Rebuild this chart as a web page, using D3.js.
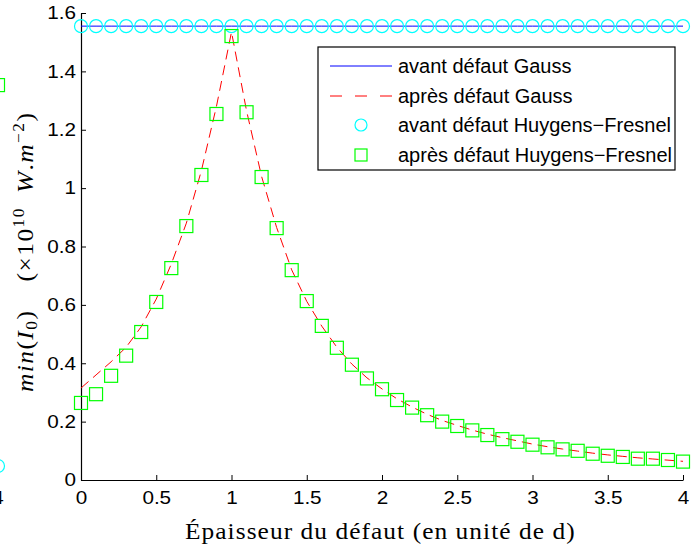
<!DOCTYPE html>
<html><head><meta charset="utf-8">
<script src="https://cdn.jsdelivr.net/npm/d3@7"></script>
<style>body{margin:0;background:#fff}svg{display:block}</style>
</head><body>
<script>
// ---- data ----
const xs = [0,0.1,0.2,0.3,0.4,0.5,0.6,0.7,0.8,0.9,1.0,1.1,1.2,1.3,1.4,1.5,1.6,1.7,1.8,1.9,2.0,2.1,2.2,2.3,2.4,2.5,2.6,2.7,2.8,2.9,3.0,3.1,3.2,3.3,3.4,3.5,3.6,3.7,3.8,3.9,4.0];
const avantGauss = 1.555; // constant level
const avantHF = xs.map(() => 1.555);
const apresGauss = [0.315,0.36,0.405,0.455,0.525,0.62,0.74,0.88,1.06,1.28,1.535,1.265,1.04,0.865,0.72,0.612,0.527,0.455,0.397,0.35,0.312,0.278,0.25,0.225,0.204,0.187,0.171,0.157,0.145,0.134,0.123,0.114,0.106,0.099,0.092,0.086,0.081,0.076,0.072,0.068,0.064];
const apresHF = [0.264,0.294,0.357,0.426,0.507,0.61,0.726,0.87,1.045,1.254,1.521,1.26,1.038,0.863,0.719,0.613,0.528,0.453,0.395,0.348,0.311,0.274,0.248,0.222,0.2,0.185,0.17,0.154,0.14,0.131,0.121,0.112,0.105,0.1,0.09,0.083,0.079,0.073,0.073,0.0685,0.063];
const xTicks = [0,0.5,1,1.5,2,2.5,3,3.5,4];
const yTicks = [0,0.2,0.4,0.6,0.8,1,1.2,1.4,1.6];
const legendLabels = ["avant défaut Gauss","après défaut Gauss","avant défaut Huygens\u2212Fresnel","après défaut Huygens\u2212Fresnel"];
// neighbouring panel (cut at left edge)
const neighX = [4];
const neighSquare = [1.353];
const neighCircle = [0.048];

// ---- layout ----
const W = 699, H = 551;
const L = 81, R = 683, T = 13, B = 480;
const svg = d3.select("body").append("svg").attr("width", W).attr("height", H);
const x = d3.scaleLinear().domain([0,4]).range([L,R]);
const y = d3.scaleLinear().domain([0,1.6]).range([B,T]);
const xN = d3.scaleLinear().domain([0,4]).range([L-604, -2]);

const sans = "'Liberation Sans', Arial, Helvetica, sans-serif";
const serif = "'Liberation Serif', 'DejaVu Serif', serif";
const tickFont = 18, tickSX = 1.15;
const labSX = 1.08;

// neighbour remnants
svg.selectAll(".nsq").data(neighX).enter().append("rect")
  .attr("x", (d)=>xN(d)-6.5).attr("y", (d,i)=>y(neighSquare[i])-6.5)
  .attr("width",13).attr("height",13).attr("fill","none").attr("stroke","#00ff00").attr("stroke-width",1.2);
svg.selectAll(".nci").data(neighX).enter().append("circle")
  .attr("cx", (d)=>xN(d)).attr("cy", (d,i)=>y(neighCircle[i])).attr("r",6.5)
  .attr("fill","none").attr("stroke","#00ffff").attr("stroke-width",1.2);
svg.selectAll(".ntk").data(neighX).enter().append("text")
  .attr("transform", d=>`translate(${xN(d)},${B+24}) scale(${tickSX},1)`).attr("text-anchor","middle")
  .attr("font-family",sans).attr("font-size",tickFont).text(d=>d);

// axes
const gx = svg.append("g").attr("transform",`translate(0,${B})`)
  .call(d3.axisBottom(x).tickValues(xTicks).tickSizeInner(-5).tickSizeOuter(0).tickPadding(11).tickFormat(d3.format("")));
const gy = svg.append("g").attr("transform",`translate(${L},0)`)
  .call(d3.axisLeft(y).tickValues(yTicks).tickSizeInner(-5).tickSizeOuter(0).tickPadding(5).tickFormat(d3.format("")));
[gx,gy].forEach(g=>{
  g.select(".domain").attr("stroke","#000").attr("stroke-width",1.2);
  g.selectAll(".tick line").attr("stroke","#000").attr("stroke-width",1);
  g.selectAll(".tick text").attr("font-family",sans).attr("font-size",tickFont).attr("fill","#000");
});
gx.selectAll(".tick text").attr("dy","0.71em").attr("transform",`scale(${tickSX},1)`).attr("y", 11);
gy.selectAll(".tick text").attr("transform",`scale(${tickSX},1)`).attr("x", -5/tickSX);

// avant Gauss: blue line
svg.append("path").datum(xs)
  .attr("d", d3.line().x(d=>x(d)).y(()=>y(avantGauss)))
  .attr("fill","none").attr("stroke","#0000ff").attr("stroke-width",1);

// après Gauss: red dashed
svg.append("path").datum(xs)
  .attr("d", d3.line().x(d=>x(d)).y((d,i)=>y(apresGauss[i])))
  .attr("fill","none").attr("stroke","#ff0000").attr("stroke-width",1).attr("stroke-dasharray","10,6");

// avant HF: cyan circles
svg.selectAll(".c").data(xs).enter().append("circle")
  .attr("cx", d=>x(d)).attr("cy",(d,i)=>y(avantHF[i])).attr("r",6.5)
  .attr("fill","none").attr("stroke","#00ffff").attr("stroke-width",1.2);

// après HF: green squares
svg.selectAll(".s").data(xs).enter().append("rect")
  .attr("x", d=>x(d)-6.5).attr("y",(d,i)=>y(apresHF[i])-6.5).attr("width",13).attr("height",13)
  .attr("fill","none").attr("stroke","#00ff00").attr("stroke-width",1.2);

// legend
const lg = svg.append("g");
lg.append("rect").attr("x",318).attr("y",47).attr("width",357).attr("height",123)
  .attr("fill","#fff").attr("stroke","#000").attr("stroke-width",1.2);
const rowY = [66,96,125,155];
lg.append("line").attr("x1",330).attr("x2",392).attr("y1",rowY[0]).attr("y2",rowY[0]).attr("stroke","#0000ff");
lg.append("line").attr("x1",330).attr("x2",392).attr("y1",rowY[1]).attr("y2",rowY[1]).attr("stroke","#ff0000").attr("stroke-dasharray","12,13");
lg.append("circle").attr("cx",361).attr("cy",rowY[2]).attr("r",6).attr("fill","none").attr("stroke","#00ffff").attr("stroke-width",1.2);
lg.append("rect").attr("x",355).attr("y",rowY[3]-6).attr("width",12).attr("height",12).attr("fill","none").attr("stroke","#00ff00").attr("stroke-width",1.2);
lg.selectAll(".lt").data(legendLabels).enter().append("text")
  .attr("x",398).attr("y",(d,i)=>rowY[i]).attr("dy","0.36em")
  .attr("font-family",sans).attr("font-size",20).attr("fill","#000").text(d=>d);

// x label (slightly widened to the reference's width)
const xLabel = "Épaisseur du défaut (en unité de d)";
const xl = svg.append("text").attr("text-anchor","start")
  .attr("font-family",serif).attr("font-size",23.5).attr("fill","#000").text(xLabel);
const xlw = xl.node().getComputedTextLength();
const xls = Math.max(0, (390/labSX - xlw) / (xLabel.length - 1));
xl.attr("letter-spacing", xls).attr("transform",`translate(185,539) scale(${labSX},1)`);

// y label
const yl = svg.append("text")
  .attr("text-anchor","start").attr("font-family",serif).attr("font-size",23.5).attr("fill","#000");
yl.append("tspan").attr("font-style","italic").text("min");
yl.append("tspan").text("(");
yl.append("tspan").attr("font-style","italic").text("I");
yl.append("tspan").attr("font-size",16).attr("dy",4).text("0");
yl.append("tspan").attr("dy",-4).text(")\u2002\u2002(×10");
yl.append("tspan").attr("font-size",16).attr("dy",-9).text("10");
yl.append("tspan").attr("dy",9).text("\u2002");
yl.append("tspan").attr("font-style","italic").text("W");
yl.append("tspan").text(".");
yl.append("tspan").attr("font-style","italic").text("m");
yl.append("tspan").attr("font-size",16).attr("dy",-9).text("\u22122");
yl.append("tspan").attr("dy",9).text(")");
const ylw = yl.node().getBBox().width;
const nChars = yl.text().length;
yl.attr("letter-spacing", Math.max(0, (279/labSX - ylw) / (nChars - 1)));
yl.attr("transform",`translate(33,392) rotate(-90) scale(${labSX},1)`);
</script>
</body></html>
